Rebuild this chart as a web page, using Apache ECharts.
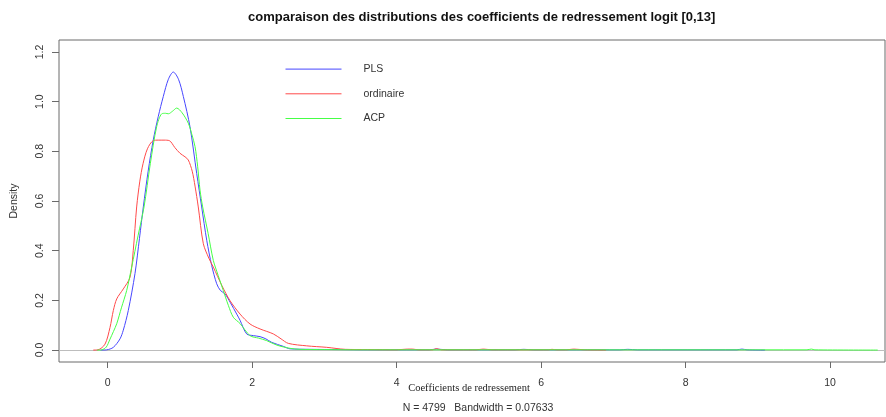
<!DOCTYPE html>
<html><head><meta charset="utf-8">
<script src="https://cdn.jsdelivr.net/npm/echarts@6/dist/echarts.min.js"></script>
<style>html,body{margin:0;padding:0;background:#fff}#c{width:886px;height:417px}</style>
</head><body><div id="c"></div>
<script>
// ---- data ----
const seriesNames = ['PLS', 'ordinaire', 'ACP'];
const xTicks = [0, 2, 4, 6, 8, 10];
const yTicks = [0, 0.2, 0.4, 0.6, 0.8, 1.0, 1.2];

const plsX = [-0.10, -0.014, 0.078, 0.17, 0.216, 0.285, 0.378, 0.44, 0.493, 0.56, 0.631, 0.70, 0.770, 0.84, 0.908, 0.98, 1.047, 1.139, 1.232, 1.301, 1.371, 1.44, 1.509, 1.56, 1.624, 1.70, 1.786, 1.832, 1.924, 2.02, 2.109, 2.19, 2.271, 2.431, 2.524, 2.8, 3.2, 3.6, 4.45, 4.55, 4.7, 5.64, 5.76, 5.89, 7.09, 7.2, 7.33, 8.71, 8.78, 8.85, 9.1];
const plsY = [0, 0.001, 0.011, 0.045, 0.08, 0.159, 0.308, 0.45, 0.576, 0.72, 0.846, 0.94, 1.021, 1.09, 1.119, 1.09, 1.021, 0.899, 0.711, 0.576, 0.442, 0.34, 0.267, 0.24, 0.226, 0.19, 0.145, 0.12, 0.065, 0.058, 0.054, 0.045, 0.031, 0.015, 0.005, 0.003, 0.002, 0.001, 0.001, 0.004, 0.001, 0.001, 0.003, 0.001, 0.001, 0.003, 0.001, 0.001, 0.004, 0.001, 0];

const ordX = [-0.20, -0.134, -0.037, 0.032, 0.078, 0.125, 0.216, 0.309, 0.354, 0.401, 0.445, 0.489, 0.55, 0.631, 0.70, 0.78, 0.853, 0.93, 1.001, 1.07, 1.116, 1.17, 1.209, 1.254, 1.324, 1.40, 1.462, 1.58, 1.693, 1.832, 1.970, 2.109, 2.293, 2.40, 2.500, 2.755, 3.032, 3.29, 3.6, 4.0, 4.15, 4.22, 4.3, 4.5, 4.55, 4.62, 5.1, 5.2, 5.32, 6.1, 6.15, 6.22, 6.35, 6.45, 6.6, 6.9];
const ordY = [0, 0.001, 0.024, 0.091, 0.159, 0.206, 0.246, 0.293, 0.401, 0.576, 0.68, 0.75, 0.81, 0.843, 0.845, 0.845, 0.843, 0.815, 0.792, 0.778, 0.765, 0.72, 0.66, 0.576, 0.428, 0.37, 0.334, 0.26, 0.199, 0.145, 0.105, 0.085, 0.065, 0.045, 0.027, 0.017, 0.011, 0.003, 0.002, 0.001, 0.004, 0.004, 0.001, 0.001, 0.006, 0.001, 0.001, 0.004, 0.001, 0.001, 0.003, 0.001, 0.001, 0.004, 0.001, 0];

const acpX = [-0.15, -0.083, -0.02, 0.032, 0.08, 0.125, 0.19, 0.263, 0.332, 0.42, 0.503, 0.59, 0.678, 0.748, 0.80, 0.839, 0.90, 0.955, 1.03, 1.116, 1.167, 1.209, 1.245, 1.278, 1.315, 1.39, 1.462, 1.53, 1.600, 1.67, 1.739, 1.832, 1.970, 2.09, 2.201, 2.340, 2.524, 2.662, 3.0, 3.5, 4.0, 9.68, 9.74, 9.79, 10.66];
const acpY = [0, 0.001, 0.012, 0.044, 0.075, 0.106, 0.17, 0.240, 0.334, 0.46, 0.576, 0.75, 0.899, 0.951, 0.953, 0.951, 0.962, 0.974, 0.955, 0.913, 0.866, 0.819, 0.74, 0.644, 0.576, 0.47, 0.361, 0.30, 0.240, 0.18, 0.132, 0.107, 0.058, 0.048, 0.038, 0.020, 0.007, 0.003, 0.002, 0.001, 0.001, 0.001, 0.004, 0.001, 0];

const titleText = 'comparaison des distributions des coefficients de redressement logit [0,13]';
const xName = 'Coefficients de redressement';
const yName = 'Density';
const subText = 'N = 4799\u00a0\u00a0 Bandwidth = 0.07633';

// ---- chart ----
const pairs = (xs, ys) => xs.map((x, i) => [x, ys[i]]);
const colors = ['#4646ff', '#ff4a4a', '#46ff46'];
const font = 'Liberation Sans, Arial, sans-serif';
const axisCol = '#6a6a6a';
const txtCol = '#333';

const chart = echarts.init(document.getElementById('c'));
const mk = (name, xs, ys, c, extra) => Object.assign({
  name, type: 'line', data: pairs(xs, ys), symbol: 'none', smooth: 0.3,
  lineStyle: { color: c, width: 1 }, itemStyle: { color: c }, z: 3
}, extra || {});

chart.setOption({
  animation: false,
  title: {
    text: titleText, left: 243, top: 6,
    textStyle: { fontFamily: font, fontSize: 13, fontWeight: 'bold', color: '#111' }
  },
  grid: { left: 59, right: 1, top: 40, bottom: 55, show: true, borderColor: axisCol, borderWidth: 1 },
  legend: {
    orient: 'vertical', left: 280, top: 58.5, itemWidth: 56, itemHeight: 14, itemGap: 13.5,
    data: seriesNames,
    itemStyle: { opacity: 0 },
    lineStyle: { width: 1 },
    textStyle: { fontFamily: font, fontSize: 10.5, color: txtCol, padding: [0, 0, 0, 17] }
  },
  xAxis: {
    type: 'value', min: -0.674, max: 10.76,
    axisLine: { show: false, onZero: false },
    axisTick: { show: true, customValues: xTicks, length: 6, lineStyle: { color: axisCol } },
    axisLabel: { customValues: xTicks, margin: 16, fontFamily: font, fontSize: 10.5, color: txtCol },
    splitLine: { show: false }
  },
  yAxis: {
    type: 'value', min: -0.048, max: 1.248,
    axisLine: { show: false, onZero: false },
    axisTick: { show: true, customValues: yTicks, length: 7, lineStyle: { color: axisCol } },
    axisLabel: { customValues: yTicks, rotate: 90, margin: 13, fontFamily: font, fontSize: 10.5, color: txtCol,
      formatter: v => v.toFixed(1) },
    splitLine: { show: false }
  },
  graphic: [
    { type: 'text', x: 14, y: 201, rotation: Math.PI / 2,
      style: { text: yName, font: '10.5px ' + font, fill: txtCol, textAlign: 'center', textVerticalAlign: 'middle' } },
    { type: 'text', x: 469, y: 388,
      style: { text: xName, font: '10.5px "Liberation Serif", "Times New Roman", serif', fill: '#222', textAlign: 'center', textVerticalAlign: 'middle' } },
    { type: 'text', x: 478, y: 408,
      style: { text: subText, font: '10.5px ' + font, fill: txtCol, textAlign: 'center', textVerticalAlign: 'middle' } }
  ],
  series: [
    mk(seriesNames[0], plsX, plsY, colors[0], {
      markLine: { silent: true, symbol: 'none', label: { show: false },
        lineStyle: { color: '#bdbdbd', type: 'solid', width: 1 }, data: [{ yAxis: 0 }], z: 1 }
    }),
    mk(seriesNames[1], ordX, ordY, colors[1]),
    mk(seriesNames[2], acpX, acpY, colors[2])
  ]
});
</script></body></html>
